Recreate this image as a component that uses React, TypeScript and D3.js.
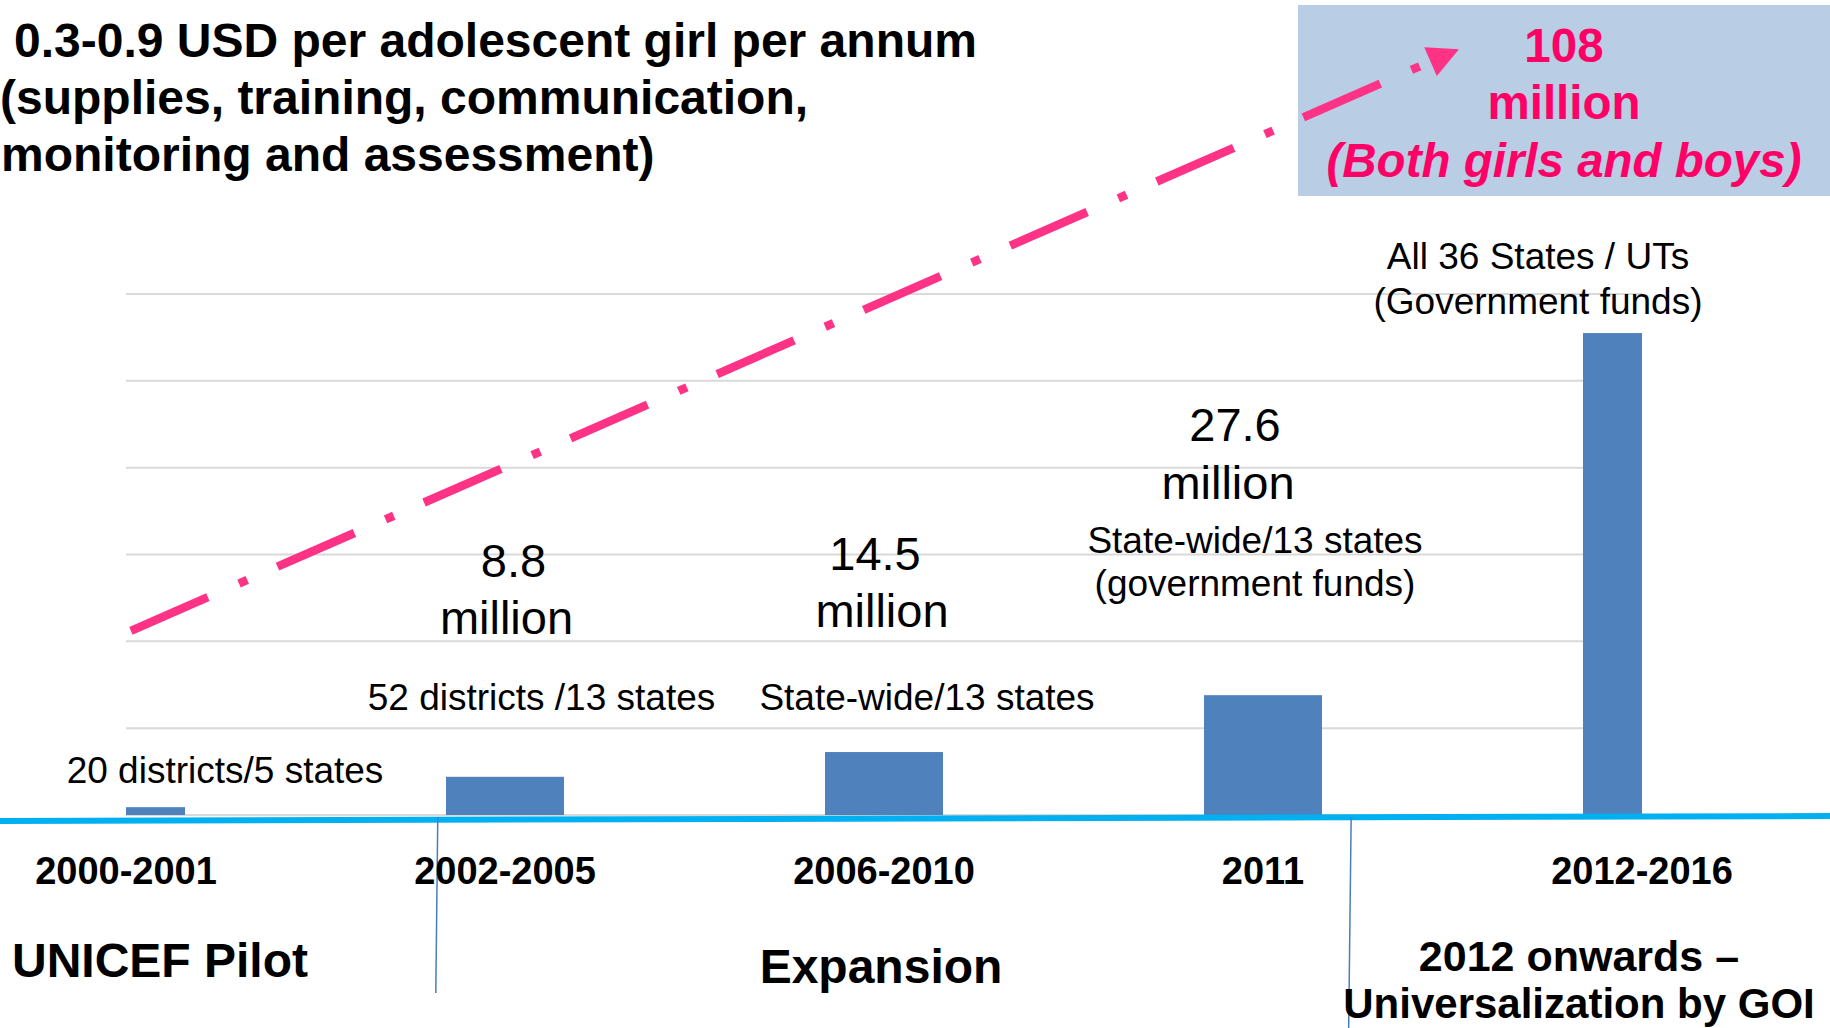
import React, { useEffect } from "react";
import * as d3 from "d3";

// ---- data ----
const categories = ["2000-2001", "2002-2005", "2006-2010", "2011", "2012-2016"];
const beneficiaries = [1.8, 8.8, 14.5, 27.6, 111]; // million adolescents
const gridTicks = [0, 20, 40, 60, 80, 100, 120];
const valueLabels = [["8.8", "million"], ["14.5", "million"], ["27.6", "million"]];
const coverageLabels = [
  "20 districts/5 states",
  "52 districts /13 states",
  "State-wide/13 states",
  "State-wide/13 states",
  "(government funds)",
  "All 36 States / UTs",
  "(Government funds)",
];
const titleLines = [
  "0.3-0.9 USD per adolescent girl per annum",
  "(supplies, training, communication,",
  "monitoring and assessment)",
];
const targetLines = ["108", "million", "(Both girls and boys)"];
const phaseLabels = ["UNICEF Pilot", "Expansion", "2012 onwards \u2013", "Universalization by GOI"];
// phase dividers, in category-index units
const phaseDividers = [0.82, 3.23];
// trend arrow, in (category index, value) units
const arrowStart = { i: 0.013, v: 42.4 };
const arrowTip = { i: 3.517, v: 176.4 };

const FONT = "'Liberation Sans', Arial, Helvetica, sans-serif";

export default function App() {
  useEffect(() => {
    document.body.style.margin = "0";
    document.body.style.overflow = "hidden";
  }, []);

  const W = 1830;
  const H = 1028;
  const x = d3.scaleLinear().domain([0, categories.length - 1]).range([126, 1642]);
  const y = d3.scaleLinear().domain([0, 120]).range([815, 294]);
  const barW = 118;

  // arrow geometry
  const sx = x(arrowStart.i), sy = y(arrowStart.v);
  const tx = x(arrowTip.i), ty = y(arrowTip.v);
  const len = Math.hypot(tx - sx, ty - sy);
  const ux = (tx - sx) / len, uy = (ty - sy) / len;
  const headLen = 31, headHalf = 15.7;
  const bx = tx - ux * headLen, by = ty - uy * headLen;
  const nx = -uy, ny = ux;
  const linePath = d3.line()([[sx, sy], [bx, by]]) || "";
  const headPath =
    d3.line()([
      [tx, ty],
      [bx + nx * headHalf, by + ny * headHalf],
      [bx - nx * headHalf, by - ny * headHalf],
    ]) + "Z";

  const pink = "#FF3385";
  const pinkText = "#FF0066";

  return (
    <svg
      width={W}
      height={H}
      style={{ position: "absolute", left: 0, top: 0, background: "#fff", fontFamily: FONT }}
    >
      <defs>
        <clipPath id="plotClip">
          <rect x={x(0)} y={0} width={x(categories.length - 1) - x(0)} height={y(0) + 1} />
        </clipPath>
      </defs>

      {/* gridlines */}
      {gridTicks.map((t) => (
        <line key={t} x1={x(0)} x2={x(categories.length - 1)} y1={y(t)} y2={y(t)} stroke="#D9D9D9" strokeWidth={2} />
      ))}

      {/* bars */}
      <g clipPath="url(#plotClip)">
        {beneficiaries.map((v, i) => (
          <rect key={i} x={x(i) - barW / 2} y={y(v)} width={barW} height={y(0) - y(v)} fill="#4F81BD" />
        ))}
      </g>

      {/* baseline */}
      <line x1={0} y1={821} x2={W} y2={816} stroke="#00B0F0" strokeWidth={6} />

      {/* phase dividers */}
      <line x1={x(phaseDividers[0]) + 1} y1={817} x2={x(phaseDividers[0]) - 1} y2={993} stroke="#4A7EBB" strokeWidth={1.5} />
      <line x1={x(phaseDividers[1]) + 1} y1={817} x2={x(phaseDividers[1]) - 1.5} y2={1028} stroke="#4A7EBB" strokeWidth={1.5} />

      {/* category labels */}
      {categories.map((c, i) => (
        <text key={c} x={x(i)} y={884} textAnchor="middle" fontSize={38} fontWeight="bold" fill="#000">
          {c}
        </text>
      ))}

      {/* phase labels */}
      <text x={12} y={977} fontSize={48} fontWeight="bold">{phaseLabels[0]}</text>
      <text x={881} y={983} fontSize={48} fontWeight="bold" textAnchor="middle">{phaseLabels[1]}</text>
      <text x={1579} y={971} fontSize={43} fontWeight="bold" textAnchor="middle">{phaseLabels[2]}</text>
      <text x={1579} y={1018} fontSize={42} fontWeight="bold" textAnchor="middle">{phaseLabels[3]}</text>

      {/* coverage labels */}
      <g fontSize={37} textAnchor="middle" fill="#000">
        <text x={225} y={783}>{coverageLabels[0]}</text>
        <text x={541.5} y={710}>{coverageLabels[1]}</text>
        <text x={927} y={710}>{coverageLabels[2]}</text>
        <text x={1255} y={552.5}>{coverageLabels[3]}</text>
        <text x={1255} y={596}>{coverageLabels[4]}</text>
        <text x={1538} y={269}>{coverageLabels[5]}</text>
        <text x={1538} y={314}>{coverageLabels[6]}</text>
      </g>

      {/* value labels */}
      <g fontSize={47} textAnchor="middle" fill="#000">
        <text x={513.5} y={577}>{valueLabels[0][0]}</text>
        <text x={506.5} y={634}>{valueLabels[0][1]}</text>
        <text x={875} y={570}>{valueLabels[1][0]}</text>
        <text x={882} y={627}>{valueLabels[1][1]}</text>
        <text x={1235} y={441}>{valueLabels[2][0]}</text>
        <text x={1228} y={498.5}>{valueLabels[2][1]}</text>
      </g>

      {/* title */}
      <g fontSize={48} fontWeight="bold" fill="#000">
        <text x={14} y={56.5}>{titleLines[0]}</text>
        <text x={0} y={114}>{titleLines[1]}</text>
        <text x={1} y={171}>{titleLines[2]}</text>
      </g>

      {/* target box */}
      <rect x={1298} y={5} width={W - 1298} height={191} fill="#B9CDE5" />
      <g fontSize={47.5} fontWeight="bold" fill={pinkText} textAnchor="middle">
        <text x={1564} y={62}>{targetLines[0]}</text>
        <text x={1564} y={119}>{targetLines[1]}</text>
        <text x={1564} y={177} fontStyle="italic">{targetLines[2]}</text>
      </g>

      {/* trend arrow */}
      <path d={linePath} stroke={pink} strokeWidth={8.5} fill="none" strokeDasharray="84 34 9 33" />
      <path d={headPath} fill={pink} />
    </svg>
  );
}
